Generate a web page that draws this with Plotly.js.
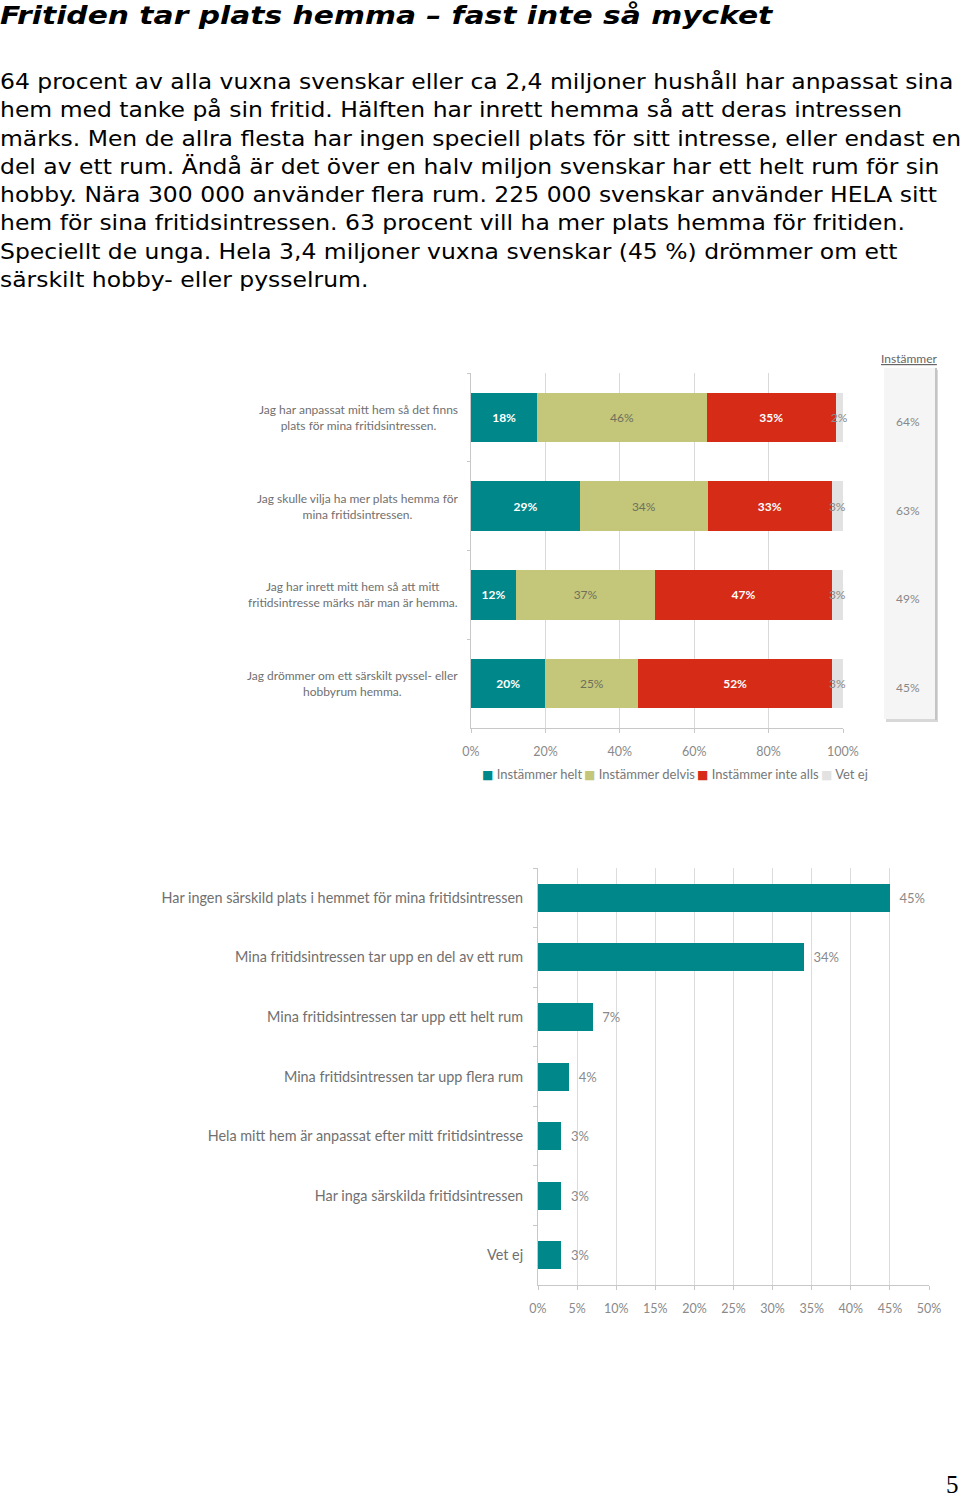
<!DOCTYPE html>
<html><head><meta charset="utf-8">
<script src="https://cdn.plot.ly/plotly-3.0.1.min.js"></script>
<style>
body{margin:0;background:#fff;}
#wrap{position:relative;width:960px;height:1497px;overflow:hidden;background:#fff;}
#chart{position:absolute;left:0;top:0;width:960px;height:1497px;}
.t{position:absolute;left:0;font-family:"DejaVu Sans",Verdana,sans-serif;color:#000;white-space:nowrap;transform-origin:0 0;}
</style></head><body>
<div id="wrap">
<div id="chart"></div>
<div class="t" style="top:1px;font-size:25px;font-weight:bold;font-style:italic;transform:scaleX(1.19);">Fritiden tar plats hemma – fast inte så mycket</div>
<div class="t" style="top:68px;font-size:20.5px;line-height:28.3px;transform:scaleX(1.145);">64 procent av alla vuxna svenskar eller ca 2,4 miljoner hushåll har anpassat sina<br>hem med tanke på sin fritid. Hälften har inrett hemma så att deras intressen<br>märks. Men de allra flesta har ingen speciell plats för sitt intresse, eller endast en<br>del av ett rum. Ändå är det över en halv miljon svenskar har ett helt rum för sin<br>hobby. Nära 300 000 använder flera rum. 225 000 svenskar använder HELA sitt<br>hem för sina fritidsintressen. 63 procent vill ha mer plats hemma för fritiden.<br>Speciellt de unga. Hela 3,4 miljoner vuxna svenskar (45 %) drömmer om ett<br>särskilt hobby- eller pysselrum.</div>
<div class="t" style="left:946px;top:1471px;font-family:'Liberation Serif',serif;font-size:25px;">5</div>
</div>
<script>
// ---- Chart 1 data (100 % stacked) ----
const statements = [
  "Jag har anpassat mitt hem så det finns<br>plats för mina fritidsintressen.",
  "Jag skulle vilja ha mer plats hemma för<br>mina fritidsintressen.",
  "Jag har inrett mitt hem så att mitt<br>fritidsintresse märks när man är hemma.",
  "Jag drömmer om ett särskilt pyssel- eller<br>hobbyrum hemma."
];
const seriesNames = ["Instämmer helt", "Instämmer delvis", "Instämmer inte alls", "Vet ej"];
const helt     = [18, 29, 12, 20];
const delvis   = [46, 34, 37, 25];
const inteAlls = [35, 33, 47, 52];
const vetEj    = [2, 3, 3, 3];
const instammer = [64, 63, 49, 45];
const ticks1 = [0, 20, 40, 60, 80, 100];

// ---- Chart 2 data ----
const places = [
  "Har ingen särskild plats i hemmet för mina fritidsintressen",
  "Mina fritidsintressen tar upp en del av ett rum",
  "Mina fritidsintressen tar upp ett helt rum",
  "Mina fritidsintressen tar upp flera rum",
  "Hela mitt hem är anpassat efter mitt fritidsintresse",
  "Har inga särskilda fritidsintressen",
  "Vet ej"
];
const placeValues = [45, 34, 7, 4, 3, 3, 3];
const ticks2 = [0, 5, 10, 15, 20, 25, 30, 35, 40, 45, 50];

// ---- styling ----
const W = 960, H = 1497;
const px = v => v / W;
const py = v => 1 - v / H;
const F = "Lato, 'Open Sans', sans-serif";
const colors = ["#00878a", "#c4c77a", "#d52b17", "#e2e2e2"];
const textStyles = [
  {color: "#ffffff", size: 12, family: F, weight: 700},
  {color: "#6f6f5a", size: 12, family: F},
  {color: "#ffffff", size: 12, family: F, weight: 700},
  {color: "#8a8a8a", size: 12, family: F}
];
const legendX = [482, 584, 697, 821];
const seriesVals = [helt, delvis, inteAlls, vetEj];
// like a 100 % stacked chart: each row is scaled to its own total
const rowTotals = statements.map((s, j) => seriesVals.reduce((a, vals) => a + vals[j], 0));

const traces = seriesVals.map((vals, i) => ({
  type: "bar", orientation: "h",
  x: vals.map((v, j) => v * 100 / rowTotals[j]), y: statements,
  name: seriesNames[i],
  marker: {color: colors[i], line: {width: 0}},
  text: vals.map(v => v + "%"),
  textposition: "inside", insidetextanchor: "middle", textangle: 0,
  textfont: textStyles[i],
  hoverinfo: "none", showlegend: false,
  xaxis: "x", yaxis: "y",
  width: 0.56,
  cliponaxis: false
}));

traces.push({
  type: "bar", orientation: "h",
  x: placeValues, y: places,
  marker: {color: "#00878a"},
  text: placeValues.map(v => "\u2002" + v + "%"),
  textposition: "outside", textangle: 0,
  textfont: {color: "#8a8a8a", size: 13, family: F},
  cliponaxis: false,
  showlegend: false, hoverinfo: "none",
  xaxis: "x2", yaxis: "y2",
  width: 0.47
});

const annotations = [];
statements.forEach((s, i) => {
  annotations.push({
    xref: "paper", yref: "y", x: px(460), y: s, xanchor: "right", align: "center",
    text: s, showarrow: false, font: {family: F, size: 12, color: "#707070"}
  });
  annotations.push({
    xref: "paper", yref: "y", x: px(908), y: s, xanchor: "center", yshift: -4,
    text: instammer[i] + "%", showarrow: false, font: {family: F, size: 12, color: "#888"}
  });
});
annotations.push({
  xref: "paper", yref: "paper", x: px(909), y: py(359), xanchor: "center", yanchor: "middle",
  text: "<span style='text-decoration:underline'>Instämmer</span>", showarrow: false,
  font: {family: F, size: 12, color: "#666"}
});
// legend row
seriesNames.forEach((n, i) => {
  annotations.push({
    xref: "paper", yref: "paper", x: px(legendX[i] - 2), y: py(774), xanchor: "left", yanchor: "middle",
    text: "<span style='color:" + colors[i] + ";font-family:DejaVu Sans;font-size:12px'>■</span> " + n,
    showarrow: false, font: {family: F, size: 13, color: "#777"}
  });
});

const layout = {
  width: W, height: H,
  margin: {l: 0, r: 0, t: 0, b: 0},
  paper_bgcolor: "rgba(0,0,0,0)", plot_bgcolor: "rgba(0,0,0,0)",
  barmode: "stack",
  showlegend: false,
  uniformtext: {mode: "show", minsize: 12},
  xaxis: {
    domain: [px(471), px(843)], anchor: "y", range: [0, 100],
    tickvals: ticks1, ticktext: ticks1.map(v => v + "%"),
    showgrid: true, gridcolor: "#d9d9d9", zeroline: false,
    showline: true, linecolor: "#c8c8c8", ticks: "outside", ticklen: 4, tickcolor: "#c8c8c8",
    ticklabelstandoff: 8,
    tickfont: {family: F, size: 12.5, color: "#8a8a8a"}, fixedrange: true
  },
  yaxis: {
    domain: [py(728), py(373)], anchor: "x", type: "category", autorange: "reversed",
    showticklabels: false, tickson: "boundaries", ticks: "outside", ticklen: 3, tickcolor: "#c8c8c8",
    showline: true, linecolor: "#c8c8c8", showgrid: false, zeroline: false, fixedrange: true
  },
  xaxis2: {
    domain: [px(538), px(929)], anchor: "y2", range: [0, 50],
    tickvals: ticks2, ticktext: ticks2.map(v => v + "%"),
    showgrid: true, gridcolor: "#dcdcdc", zeroline: false,
    showline: true, linecolor: "#c8c8c8", ticks: "outside", ticklen: 4, tickcolor: "#c8c8c8",
    ticklabelstandoff: 8,
    tickfont: {family: F, size: 12.5, color: "#8a8a8a"}, fixedrange: true
  },
  yaxis2: {
    domain: [py(1285), py(868)], anchor: "x2", type: "category", autorange: "reversed",
    tickson: "boundaries", ticks: "outside", ticklen: 4, tickcolor: "#c8c8c8",
    ticklabelstandoff: 11,
    showline: true, linecolor: "#c8c8c8", showgrid: false, zeroline: false,
    tickfont: {family: F, size: 14.4, color: "#707070"}, fixedrange: true
  },
  shapes: [
    {type: "rect", xref: "paper", yref: "paper", x0: px(886), x1: px(938), y0: py(722), y1: py(370),
     fillcolor: "#d8d8d8", line: {width: 0}, layer: "below"},
    {type: "rect", xref: "paper", yref: "paper", x0: px(884), x1: px(936), y0: py(719), y1: py(368),
     fillcolor: "#f5f5f5", line: {width: 0}, layer: "below"},
    {type: "line", xref: "paper", yref: "paper", x0: px(936), x1: px(936), y0: py(720), y1: py(368),
     line: {color: "#c4c4c4", width: 2}, layer: "below"}
  ],
  annotations: annotations
};

Plotly.newPlot("chart", traces, layout, {displayModeBar: false, staticPlot: true});
</script>
</body></html>
